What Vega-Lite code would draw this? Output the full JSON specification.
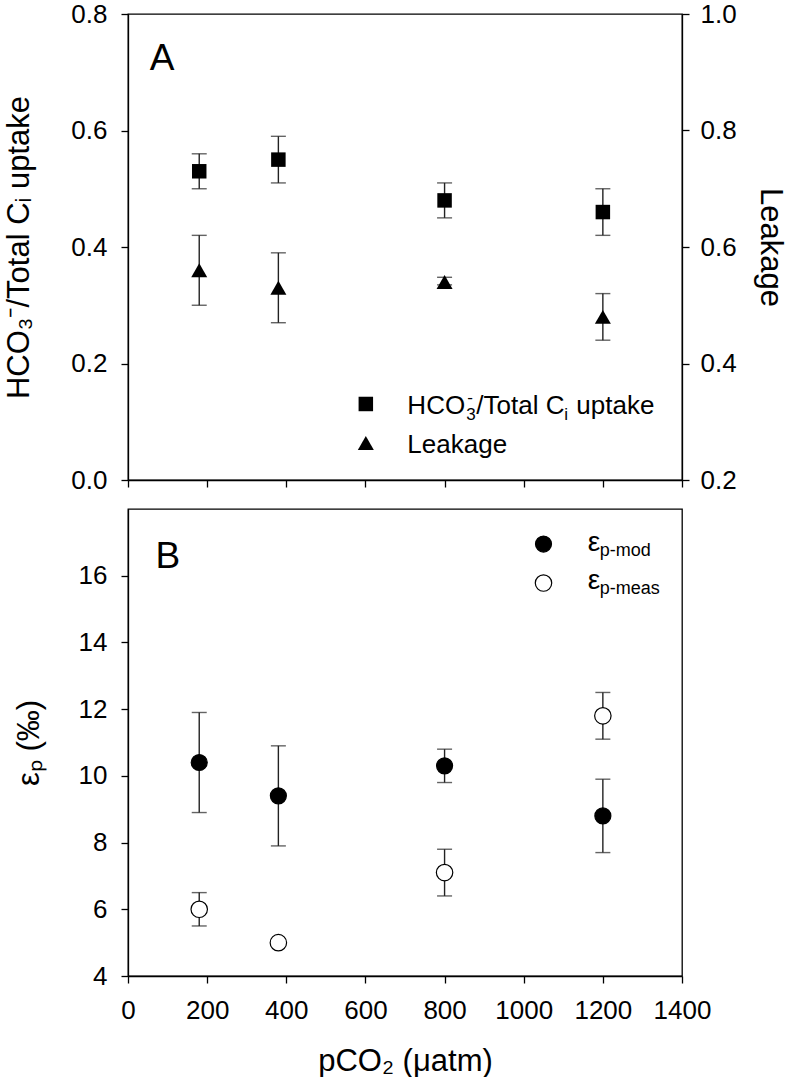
{
  "$schema": "https://vega.github.io/schema/vega-lite/v6.json",
  "background": "white",
  "padding": {"left": 3, "top": 0, "right": 10, "bottom": 0},
  "spacing": 29,
  "bounds": "flush",
  "config": {
    "font": "Liberation Sans",
    "view": {"stroke": "black", "strokeWidth": 1.3},
    "axis": {
      "grid": false, "domainColor": "black", "domainWidth": 1.3, "tickColor": "black", "tickWidth": 1.3, "tickSize": 7,
      "labelColor": "black", "titleColor": "black", "labelFont": "Liberation Sans", "titleFont": "Liberation Sans",
      "labelFontSize": 26, "titleFontSize": 31, "titleFontWeight": "normal", "labelFlush": false, "labelOverlap": false, "labelPadding": 14
    },
    "tick": {"thickness": 1.4, "color": "#222"},
    "rule": {"color": "#222", "strokeWidth": 1.4}
  },
  "datasets": {
    "uptake": [
      {"pCO2": 180, "ratio": 0.53, "lo": 0.50, "hi": 0.56},
      {"pCO2": 380, "ratio": 0.55, "lo": 0.51, "hi": 0.59},
      {"pCO2": 800, "ratio": 0.48, "lo": 0.45, "hi": 0.51},
      {"pCO2": 1200, "ratio": 0.46, "lo": 0.42, "hi": 0.50}
    ],
    "leakage": [
      {"pCO2": 180, "leak": 0.56, "lo": 0.50, "hi": 0.62},
      {"pCO2": 380, "leak": 0.53, "lo": 0.47, "hi": 0.59},
      {"pCO2": 800, "leak": 0.54, "lo": 0.535, "hi": 0.548},
      {"pCO2": 1200, "leak": 0.48, "lo": 0.44, "hi": 0.52}
    ],
    "eps": [
      {"pCO2": 180, "type": "mod", "eps": 10.4, "lo": 8.9, "hi": 11.9},
      {"pCO2": 380, "type": "mod", "eps": 9.4, "lo": 7.9, "hi": 10.9},
      {"pCO2": 800, "type": "mod", "eps": 10.3, "lo": 9.8, "hi": 10.8},
      {"pCO2": 1200, "type": "mod", "eps": 8.8, "lo": 7.7, "hi": 9.9},
      {"pCO2": 180, "type": "meas", "eps": 6.0, "lo": 5.5, "hi": 6.5},
      {"pCO2": 380, "type": "meas", "eps": 5.0, "lo": null, "hi": null},
      {"pCO2": 800, "type": "meas", "eps": 7.1, "lo": 6.4, "hi": 7.8},
      {"pCO2": 1200, "type": "meas", "eps": 11.8, "lo": 11.1, "hi": 12.5}
    ],
    "one": [{}]
  },
  "vconcat": [
    {
      "width": 554,
      "height": 466,
      "layer": [
        {
          "layer": [
            {
              "data": {"name": "uptake"},
              "mark": {"type": "rule"},
              "encoding": {
                "x": {"field": "pCO2", "type": "quantitative", "scale": {"domain": [0, 1400], "nice": false}, "axis": {"values": [0, 200, 400, 600, 800, 1000, 1200, 1400], "labels": false, "title": null}},
                "y": {"field": "lo", "type": "quantitative", "scale": {"domain": [0, 0.8], "nice": false}, "axis": {"values": [0, 0.2, 0.4, 0.6, 0.8], "format": ".1f", "title": "HCO₃⁻/Total Cᵢ uptake", "titlePadding": 35}},
                "y2": {"field": "hi"}
              }
            },
            {
              "data": {"name": "uptake"},
              "mark": {"type": "tick", "orient": "horizontal", "size": 15},
              "encoding": {"x": {"field": "pCO2", "type": "quantitative"}, "y": {"field": "lo", "type": "quantitative"}}
            },
            {
              "data": {"name": "uptake"},
              "mark": {"type": "tick", "orient": "horizontal", "size": 15},
              "encoding": {"x": {"field": "pCO2", "type": "quantitative"}, "y": {"field": "hi", "type": "quantitative"}}
            },
            {
              "data": {"name": "uptake"},
              "mark": {"type": "point", "shape": "square", "filled": true, "color": "black", "opacity": 1, "size": 210},
              "encoding": {"x": {"field": "pCO2", "type": "quantitative"}, "y": {"field": "ratio", "type": "quantitative"}}
            },
            {
              "data": {"name": "one"},
              "mark": {"type": "point", "shape": "square", "filled": true, "color": "black", "opacity": 1, "size": 210},
              "encoding": {"x": {"datum": 601}, "y": {"datum": 0.1305}}
            },
            {
              "data": {"name": "one"},
              "mark": {"type": "point", "shape": "triangle-up", "filled": true, "color": "black", "opacity": 1, "size": 256},
              "encoding": {"x": {"datum": 601}, "y": {"datum": 0.0635}}
            },
            {
              "data": {"name": "one"},
              "mark": {"type": "text", "text": "HCO", "align": "left", "baseline": "alphabetic", "fontSize": 26, "color": "black"},
              "encoding": {"x": {"datum": 706}, "y": {"datum": 0.1133}}
            },
            {
              "data": {"name": "one"},
              "mark": {"type": "text", "text": "3", "align": "left", "baseline": "alphabetic", "fontSize": 17, "dx": 59, "dy": 6, "color": "black"},
              "encoding": {"x": {"datum": 706}, "y": {"datum": 0.1133}}
            },
            {
              "data": {"name": "one"},
              "mark": {"type": "text", "text": "-", "align": "left", "baseline": "alphabetic", "fontSize": 17, "dx": 60, "dy": -11, "color": "black"},
              "encoding": {"x": {"datum": 706}, "y": {"datum": 0.1133}}
            },
            {
              "data": {"name": "one"},
              "mark": {"type": "text", "text": "/Total C", "align": "left", "baseline": "alphabetic", "fontSize": 26, "dx": 69, "color": "black"},
              "encoding": {"x": {"datum": 706}, "y": {"datum": 0.1133}}
            },
            {
              "data": {"name": "one"},
              "mark": {"type": "text", "text": "i", "align": "left", "baseline": "alphabetic", "fontSize": 17, "dx": 157, "dy": 6, "color": "black"},
              "encoding": {"x": {"datum": 706}, "y": {"datum": 0.1133}}
            },
            {
              "data": {"name": "one"},
              "mark": {"type": "text", "text": "uptake", "align": "left", "baseline": "alphabetic", "fontSize": 26, "dx": 169, "color": "black"},
              "encoding": {"x": {"datum": 706}, "y": {"datum": 0.1133}}
            },
            {
              "data": {"name": "one"},
              "mark": {"type": "text", "text": "Leakage", "align": "left", "baseline": "alphabetic", "fontSize": 26, "color": "black"},
              "encoding": {"x": {"datum": 706}, "y": {"datum": 0.0464}}
            },
            {
              "data": {"name": "one"},
              "mark": {"type": "text", "text": "A", "align": "center", "baseline": "middle", "fontSize": 37, "color": "black"},
              "encoding": {"x": {"datum": 86}, "y": {"datum": 0.723}}
            }
          ]
        },
        {
          "layer": [
            {
              "data": {"name": "leakage"},
              "mark": {"type": "rule"},
              "encoding": {
                "x": {"field": "pCO2", "type": "quantitative"},
                "y": {"field": "lo", "type": "quantitative", "scale": {"domain": [0.2, 1.0], "nice": false, "zero": false}, "axis": {"orient": "right", "values": [0.2, 0.4, 0.6, 0.8, 1.0], "format": ".1f", "title": "Leakage", "titlePadding": 17, "labelPadding": 11}},
                "y2": {"field": "hi"}
              }
            },
            {
              "data": {"name": "leakage"},
              "mark": {"type": "tick", "orient": "horizontal", "size": 15},
              "encoding": {"x": {"field": "pCO2", "type": "quantitative"}, "y": {"field": "lo", "type": "quantitative"}}
            },
            {
              "data": {"name": "leakage"},
              "mark": {"type": "tick", "orient": "horizontal", "size": 15},
              "encoding": {"x": {"field": "pCO2", "type": "quantitative"}, "y": {"field": "hi", "type": "quantitative"}}
            },
            {
              "data": {"name": "leakage"},
              "mark": {"type": "point", "shape": "triangle-up", "filled": true, "color": "black", "opacity": 1, "size": 256},
              "encoding": {"x": {"field": "pCO2", "type": "quantitative"}, "y": {"field": "leak", "type": "quantitative"}}
            }
          ]
        }
      ],
      "resolve": {"scale": {"y": "independent"}, "axis": {"y": "independent"}}
    },
    {
      "width": 554,
      "height": 467,
      "layer": [
        {
          "data": {"name": "eps"},
          "transform": [{"filter": "datum.lo != null"}],
          "mark": {"type": "rule"},
          "encoding": {
            "x": {"field": "pCO2", "type": "quantitative", "scale": {"domain": [0, 1400], "nice": false}, "axis": {"values": [0, 200, 400, 600, 800, 1000, 1200, 1400], "format": "d", "title": "pCO₂ (μatm)", "titlePadding": 23}},
            "y": {"field": "lo", "type": "quantitative", "scale": {"domain": [4, 18], "nice": false, "zero": false}, "axis": {"values": [4, 6, 8, 10, 12, 14, 16], "title": "εₚ (‰)", "titlePadding": 33}},
            "y2": {"field": "hi"}
          }
        },
        {
          "data": {"name": "eps"},
          "transform": [{"filter": "datum.lo != null"}],
          "mark": {"type": "tick", "orient": "horizontal", "size": 15},
          "encoding": {"x": {"field": "pCO2", "type": "quantitative"}, "y": {"field": "lo", "type": "quantitative"}}
        },
        {
          "data": {"name": "eps"},
          "transform": [{"filter": "datum.hi != null"}],
          "mark": {"type": "tick", "orient": "horizontal", "size": 15},
          "encoding": {"x": {"field": "pCO2", "type": "quantitative"}, "y": {"field": "hi", "type": "quantitative"}}
        },
        {
          "data": {"name": "eps"},
          "transform": [{"filter": "datum.type == 'mod'"}],
          "mark": {"type": "point", "shape": "circle", "filled": true, "fill": "black", "stroke": "black", "strokeWidth": 1.2, "opacity": 1, "size": 256},
          "encoding": {"x": {"field": "pCO2", "type": "quantitative"}, "y": {"field": "eps", "type": "quantitative"}}
        },
        {
          "data": {"name": "eps"},
          "transform": [{"filter": "datum.type == 'meas'"}],
          "mark": {"type": "point", "shape": "circle", "filled": true, "fill": "white", "stroke": "black", "strokeWidth": 1.2, "opacity": 1, "size": 270},
          "encoding": {"x": {"field": "pCO2", "type": "quantitative"}, "y": {"field": "eps", "type": "quantitative"}}
        },
        {
          "data": {"name": "one"},
          "mark": {"type": "point", "shape": "circle", "filled": true, "fill": "black", "stroke": "black", "strokeWidth": 1.2, "opacity": 1, "size": 256},
          "encoding": {"x": {"datum": 1050}, "y": {"datum": 16.95}}
        },
        {
          "data": {"name": "one"},
          "mark": {"type": "point", "shape": "circle", "filled": true, "fill": "white", "stroke": "black", "strokeWidth": 1.2, "opacity": 1, "size": 270},
          "encoding": {"x": {"datum": 1050}, "y": {"datum": 15.78}}
        },
        {
          "data": {"name": "one"},
          "mark": {"type": "text", "text": "ε", "align": "left", "baseline": "alphabetic", "fontSize": 28, "color": "black"},
          "encoding": {"x": {"datum": 1162}, "y": {"datum": 16.74}}
        },
        {
          "data": {"name": "one"},
          "mark": {"type": "text", "text": "p-mod", "align": "left", "baseline": "alphabetic", "fontSize": 18, "dx": 12, "dy": 5, "color": "black"},
          "encoding": {"x": {"datum": 1162}, "y": {"datum": 16.74}}
        },
        {
          "data": {"name": "one"},
          "mark": {"type": "text", "text": "ε", "align": "left", "baseline": "alphabetic", "fontSize": 28, "color": "black"},
          "encoding": {"x": {"datum": 1162}, "y": {"datum": 15.6}}
        },
        {
          "data": {"name": "one"},
          "mark": {"type": "text", "text": "p-meas", "align": "left", "baseline": "alphabetic", "fontSize": 18, "dx": 12, "dy": 5, "color": "black"},
          "encoding": {"x": {"datum": 1162}, "y": {"datum": 15.6}}
        },
        {
          "data": {"name": "one"},
          "mark": {"type": "text", "text": "B", "align": "center", "baseline": "middle", "fontSize": 37, "color": "black"},
          "encoding": {"x": {"datum": 101}, "y": {"datum": 16.56}}
        }
      ]
    }
  ]
}
